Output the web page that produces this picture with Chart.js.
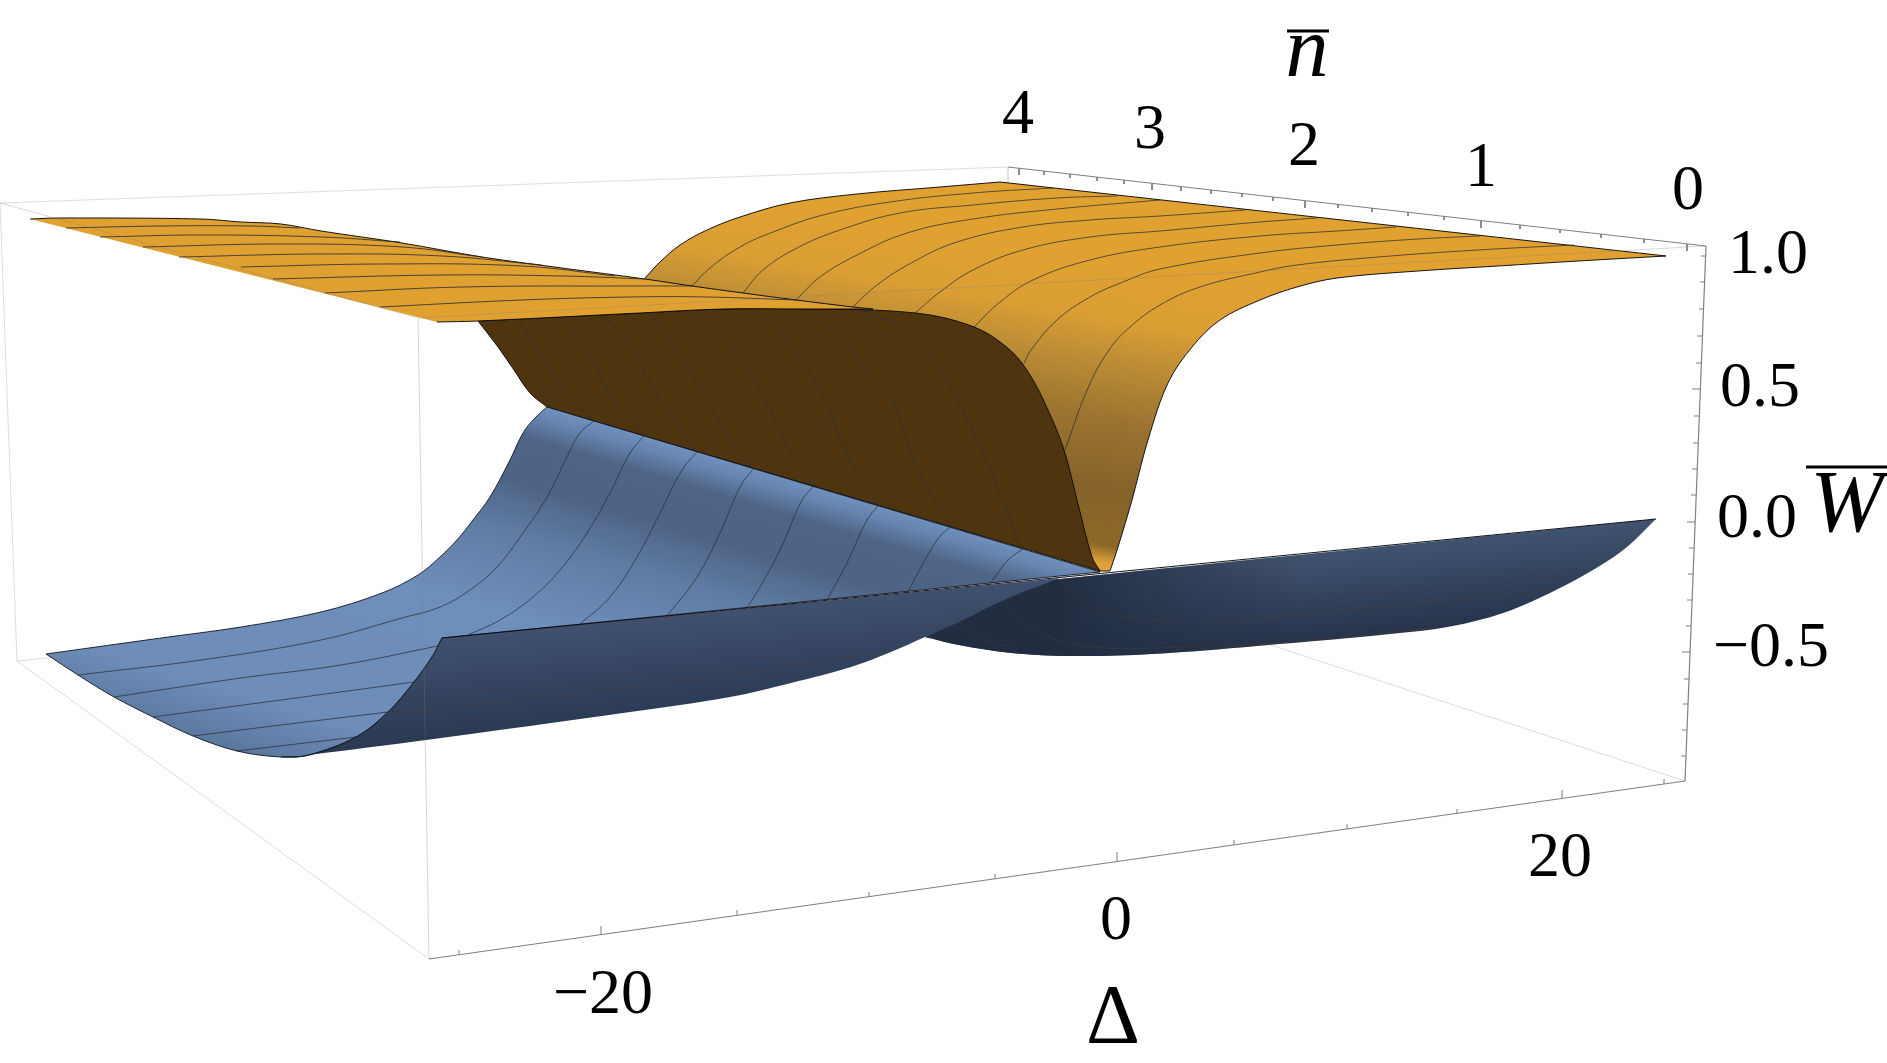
<!DOCTYPE html>
<html><head><meta charset="utf-8">
<style>html,body{margin:0;padding:0;background:#fff;overflow:hidden}#wrap{position:absolute;left:0;top:0;width:1887px;height:1063px}</style>
<script src="https://cdn.jsdelivr.net/npm/chart.js@4"></script>
</head><body><div id="wrap"><canvas id="c" width="1887" height="1063"></canvas></div>
<script>
// Every list holds points of the drawn figure (projected plot plane).
const orangeBack=[[645,278],[645,278],[660,262],[680,245],[707,230],[740,217],[790,203],[857,194],[940,187],[1000,182],[1000,182],[1666,256],[1666,256],[1578,261],[1498,266],[1418,271],[1337,278],[1297,287],[1260,300],[1220,320],[1192,347],[1168,383],[1148,440],[1132,500],[1118,547],[1110,571],[1110,571],[1100,571],[1100,571],[851,320],[851,320],[645,300],[645,300]];
const orangeFront=[[30,219],[30,219],[60,218],[201,219],[241,222],[281,224],[321,231],[402,243],[482,257],[562,268],[645,279],[692,286],[743,293],[796,300],[853,307],[873,309],[873,309],[851,309],[807,309],[723,309],[640,313],[478,321],[437,322],[437,322]];
const brownUnderside=[[478,321],[478,321],[640,313],[723,309],[807,309],[915,313],[974,327],[1010,350],[1030,375],[1048,410],[1064,450],[1077,500],[1092,557],[1100,571],[1100,571],[547,407],[547,407],[530,393],[514,370],[498,347],[478,321],[478,321]];
const blueSheet=[[547,407],[547,407],[1100,572],[1100,572],[442,638],[442,638],[432,657],[414,682],[388,712],[356,737],[309,755],[281,757],[237,751],[193,736],[153,717],[114,697],[78,675],[46,654],[46,654],[161,638],[241,627],[321,612],[382,593],[418,575],[440,557],[457,540],[473,520],[490,497],[510,460],[523,433],[535,418],[547,407],[547,407]];
const navyRight=[[1040,581],[1040,581],[1656,519],[1656,519],[1627,547],[1598,567],[1554,591],[1506,612],[1458,625],[1410,632],[1257,646],[1152,654],[1072,656],[1012,653],[959,645],[925,637],[925,637]];
const navyFront=[[442,638],[442,638],[1060,578],[1060,578],[1004,600],[959,622],[925,637],[925,637],[891,652],[851,667],[791,683],[730,697],[630,712],[426,740],[309,755],[309,755],[356,737],[388,712],[414,682],[432,657],[442,638],[442,638]];
const frontEdge=[[442,638],[1656,519]];
const navyFold=[[442,638],[442,638],[432,657],[414,682],[388,712],[356,737],[309,755],[281,757]];

const meshOrangeBack=[
 [[692,286],[710,268],[740,247],[773,232],[823,215],[890,202],[973,193],[1053,188]],
 [[743,293],[763,270],[797,248],[840,230],[900,213],[973,205],[1057,198],[1117,196]],
 [[796,300],[820,277],[857,255],[907,233],[973,219],[1057,209],[1160,200]],
 [[853,307],[877,285],[913,262],[957,242],[1023,227],[1090,220],[1160,216],[1245,210]],
 [[915,313],[940,292],[973,270],[1023,250],[1090,237],[1160,231],[1260,222],[1317,218]],
 [[974,327],[1000,302],[1033,280],[1090,260],[1160,247],[1260,236],[1337,231],[1396,227]],
 [[1024,363],[1031,350],[1057,320],[1090,297],[1123,282],[1160,269],[1260,253],[1337,245],[1418,239],[1480,236]],
 [[1065,450],[1088,388],[1109,350],[1130,327],[1160,305],[1200,287],[1260,272],[1297,265],[1378,257],[1478,250],[1574,245]]
];
const meshOrangeFront=[
 [[66,228],[161,226],[250,226],[300,228]],
 [[100,237],[201,235],[321,237],[400,242]],
 [[143,247],[281,244],[402,247],[482,257]],
 [[179,257],[321,254],[442,256],[542,265]],
 [[241,267],[382,264],[522,266],[615,276]],
 [[273,279],[442,275],[562,276],[645,279]],
 [[325,293],[462,287],[630,286],[692,286]],
 [[380,307],[522,300],[630,297],[707,297],[796,300]]
];
const meshBrown=[
 [[518,318],[542,357],[573,400],[594,421]],
 [[560,317],[591,357],[613,400],[644,436]],
 [[605,316],[630,347],[660,400],[697,452]],
 [[650,313],[670,343],[698,385],[730,440],[753,469]],
 [[700,312],[730,347],[765,400],[793,457],[813,487]],
 [[752,310],[787,340],[825,400],[850,460],[878,506]],
 [[805,309],[843,340],[875,383],[892,400],[917,467],[950,527]],
 [[863,310],[903,330],[939,370],[971,427],[1004,503],[1022,549]]
];
const meshBlue=[
 [[78,675],[201,660],[321,640],[402,618],[440,607],[470,590],[497,567],[523,533],[547,497],[567,457],[580,433],[594,421]],
 [[114,697],[241,678],[341,665],[438,646]],
 [[468,635],[500,620],[533,597],[560,570],[587,533],[610,493],[630,453],[644,436]],
 [[153,717],[281,700],[414,682]],
 [[193,736],[281,725],[388,712]],
 [[237,751],[356,737]],
 [[580,624],[610,597],[637,557],[660,513],[682,470],[697,452]],
 [[667,616],[697,577],[720,533],[740,487],[753,469]],
 [[747,608],[760,587],[780,550],[802,500],[813,487]],
 [[827,600],[847,563],[867,520],[878,506]],
 [[907,593],[937,540],[950,527]],
 [[990,584],[1008,560],[1023,549]]
];
const meshNavy=[
 [[386,715],[630,687],[750,672],[831,660],[891,650]],
 [[1059,579],[1072,593],[1096,610],[1132,618],[1192,622],[1260,618],[1418,603],[1554,590]],
 [[1003,601],[1024,622],[1052,638],[1092,647],[1152,648],[1260,644],[1337,638],[1438,627]],
 [[959,622],[980,637],[1012,648]]
];
const boxBack=[[[0,203],[1008,167]],[[0,203],[17,661]],[[17,661],[429,959]],[[17,661],[1012,560]],[[1685,781],[1012,560]],[[1008,167],[1008,182]]];
const boxFront=[[[0,203],[418,318]],[[418,318],[429,959]],[[418,318],[1706,246]]];
const axisLines=[[[1008,167],[1706,246]],[[1706,246],[1685,781]],[[429,959],[1685,781]]];
const nTicksMajor=[[1019,168],[1152,183],[1305,201],[1481,221],[1687,244]];
const nTicksMinor=[[1044,171],[1070,174],[1097,177],[1124,180],[1181,187],[1211,190],[1242,193],[1273,197],[1338,204],[1372,208],[1408,212],[1444,216],[1520,225],[1560,229],[1601,234],[1644,239]];
const wTicksMajor=[[1700,389],[1695,522],[1690,652]];
const wTicksMinor=[[1706,256],[1705,282],[1704,309],[1702,336],[1701,363],[1699,416],[1698,443],[1697,469],[1696,495],[1694,548],[1693,574],[1692,600],[1691,626],[1689,679],[1688,704],[1687,730],[1686,756]];
const dTicksMajor=[[601,935],[1117,861],[1562,799]];
const dTicksMinor=[[459,955],[737,915],[869,897],[995,879],[1234,845],[1347,829],[1457,814],[1664,784]];
const overBars=[[[1287,31],[1329,31]],[[1806,467],[1887,467]]];
const nLabels=["4","3","2","1","0"], nLabelPos=[[1018,133],[1150,148],[1304,165],[1481,186],[1688,209]];
const wLabels=["1.0","0.5","0.0","\u22120.5"], wLabelPos=[[1768,273],[1760,406],[1757,537],[1771,666]];
const dLabels=["\u221220","0","20"], dLabelPos=[[603,1013],[1116,939],[1560,876]];
const axisTitles=["n","W","\u0394"], axisTitlePos=[[1307,76],[1847,531],[1113,1043]];

const canvas=document.getElementById('c'), g=canvas.getContext('2d');
function grad(ox,oy,nx,ny,stops){
  const a=stops[0][0], b=stops[stops.length-1][0];
  const lg=g.createLinearGradient(ox+nx*a,oy+ny*a,ox+nx*b,oy+ny*b);
  stops.forEach(s=>lg.addColorStop((s[0]-a)/(b-a),s[1]));
  return lg;
}
const pts=a=>a.map(p=>({x:p[0],y:p[1]}));
const base={showLine:true,pointRadius:0,pointHoverRadius:0,clip:false,tension:0.35};
const poly=(a,bg,border,w)=>({...base,data:pts(a),fill:'shape',backgroundColor:bg,borderColor:border||'rgba(0,0,0,0)',borderWidth:w===undefined?1:w});
const line=(a,color,w,tension)=>({...base,data:pts(a),fill:false,borderColor:color,borderWidth:w,tension:tension===undefined?0.4:tension});
const MESH='rgba(38,40,52,0.8)', EDGE='rgba(10,10,14,0.95)';

const orangeGrad=grad(680,285,-0.168,0.986,[[-100,'#E0A131'],[-40,'#DB9E33'],[0,'#BE8E36'],[60,'#9C7430'],[130,'#85622A'],[185,'#8C6826'],[203,'#E0A13C']]);
const blueGrad=grad(547,407,-0.285,0.959,[[0,'#7191BE'],[14,'#6483AE'],[35,'#4F6585'],[80,'#4E6485'],[130,'#5F7CA3'],[210,'#6E8EBB'],[360,'#6E8DB9'],[430,'#567399']]);
const navyFrontGrad=grad(442,638,0.098,0.995,[[0,'#3F516E'],[60,'#33435E'],[120,'#27354D']]);
const navyRightGrad=grad(1260,558,0.098,0.995,[[0,'#41536E'],[40,'#344560'],[85,'#27344C']]);
const lgShade=g.createLinearGradient(1060,0,1300,0);
lgShade.addColorStop(0,'rgba(34,45,66,1)');lgShade.addColorStop(1,'rgba(34,45,66,0)');

const tick=(p,dx,dy)=>line([p,[p[0]+dx,p[1]+dy]],'#7d7d7d',1,0);
const layers=[
  ...boxBack.map(a=>line(a,'#dcdcdc',1,0)),
  poly(orangeBack,orangeGrad,EDGE),
  ...meshOrangeBack.map(a=>line(a,MESH,0.9)),
  poly(brownUnderside,'#4E350F',EDGE),
  ...meshBrown.map(a=>line(a,'rgba(45,45,55,0.85)',0.9)),
  poly(orangeFront,'#E0A131',EDGE),
  ...meshOrangeFront.map(a=>line(a,MESH,1)),
  poly(navyRight,navyRightGrad,'rgba(0,0,0,0)',0),
  poly(navyRight,lgShade,'rgba(0,0,0,0)',0),
  ...meshNavy.slice(1).map(a=>line(a,'rgba(70,60,55,0.65)',0.9)),
  poly(blueSheet,blueGrad,'rgba(15,20,30,0.9)'),
  ...meshBlue.map(a=>line(a,'rgba(40,42,50,0.8)',0.9)),
  poly(navyFront,navyFrontGrad,'rgba(0,0,0,0)',0),
  line(meshNavy[0],'rgba(70,60,55,0.65)',0.9),
  line(navyFold,'rgba(15,20,30,0.9)',1),
  line(frontEdge,'rgba(8,10,16,0.95)',1.1,0),
  ...boxFront.map(a=>line(a,'rgba(125,125,125,0.3)',1,0)),
  ...axisLines.map(a=>line(a,'#808080',1.2,0)),
  ...nTicksMajor.map(p=>tick(p,0,7)),
  ...nTicksMinor.map(p=>tick(p,0,4)),
  ...wTicksMajor.map(p=>tick(p,-8,0)),
  ...wTicksMinor.map(p=>tick(p,-5,0)),
  ...dTicksMajor.map(p=>tick(p,0,-9)),
  ...dTicksMinor.map(p=>tick(p,0,-5)),
  ...overBars.map(a=>line(a,'#000',3,0))
];
const textPlugin={id:'txt',afterDatasetsDraw(ch){
  const c=ch.ctx,x=ch.scales.x,y=ch.scales.y;
  c.save();c.fillStyle='#000';c.textAlign='center';c.textBaseline='alphabetic';
  const put=(t,p,f)=>{c.font=f;c.fillText(t,x.getPixelForValue(p[0]),y.getPixelForValue(p[1]));};
  const F='64px "Liberation Serif"';
  nLabels.forEach((t,i)=>put(t,nLabelPos[i],F));
  wLabels.forEach((t,i)=>put(t,wLabelPos[i],F));
  dLabels.forEach((t,i)=>put(t,dLabelPos[i],F));
  put(axisTitles[0],axisTitlePos[0],'italic 86px "Liberation Serif"');
  put(axisTitles[1],axisTitlePos[1],'italic 88px "Liberation Serif"');
  put(axisTitles[2],axisTitlePos[2],'84px "Liberation Serif"');
  c.restore();
}};
new Chart(canvas,{type:'scatter',data:{datasets:layers.slice().reverse()},plugins:[textPlugin],options:{
  responsive:false,animation:false,devicePixelRatio:1,
  layout:{padding:0},
  elements:{line:{capBezierPoints:false}},
  plugins:{legend:{display:false},tooltip:{enabled:false},title:{display:false}},
  scales:{
    x:{type:'linear',min:0,max:1887,display:false},
    y:{type:'linear',min:0,max:1063,reverse:true,display:false}
  }}});
</script></body></html>
